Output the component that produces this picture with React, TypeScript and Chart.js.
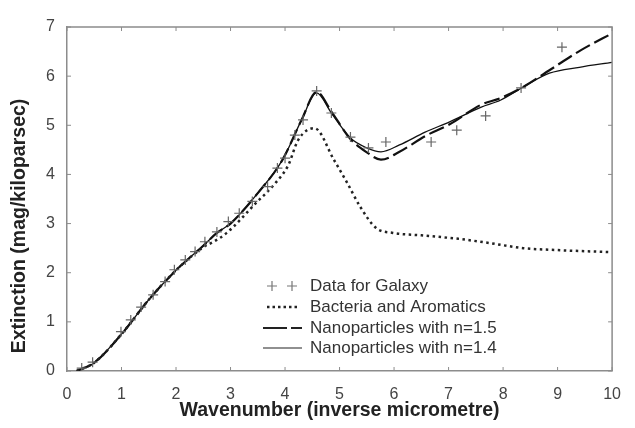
import React, { useEffect, useRef } from "react";
import { Chart, registerables } from "chart.js";

Chart.register(...registerables);

const xTicks = [0, 1, 2, 3, 4, 5, 6, 7, 8, 9, 10];
const yTicks = [0, 1, 2, 3, 4, 5, 6, 7];

const galaxyX = [0.27, 0.47, 0.99, 1.17, 1.36, 1.58, 1.8, 1.97, 2.17, 2.35, 2.53, 2.75, 2.96, 3.16, 3.4, 3.68, 3.86, 4.0, 4.18, 4.33, 4.58, 4.85, 5.2, 5.53, 5.85, 6.68, 7.15, 7.68, 8.33, 9.08];
const galaxyY = [0.06, 0.18, 0.8, 1.04, 1.3, 1.55, 1.82, 2.06, 2.26, 2.43, 2.63, 2.83, 3.04, 3.21, 3.45, 3.75, 4.13, 4.33, 4.8, 5.11, 5.7, 5.25, 4.76, 4.54, 4.66, 4.66, 4.9, 5.19, 5.76, 6.59];

const bacteriaX = [0.18, 0.5, 1, 1.5, 2, 2.5, 2.69, 2.93, 3.46, 3.82, 4.06, 4.24, 4.54, 4.9, 5.13, 5.38, 5.67, 5.98, 6.5, 7.18, 7.77, 8.37, 9, 9.96];
const bacteriaY = [0, 0.17, 0.75, 1.45, 2.05, 2.52, 2.63, 2.81, 3.41, 3.82, 4.19, 4.7, 4.94, 4.29, 3.85, 3.34, 2.91, 2.81, 2.76, 2.69, 2.6, 2.5, 2.46, 2.42];

const n15X = [0.18, 0.5, 1, 1.5, 2, 2.5, 2.75, 3, 3.5, 3.95, 4.3, 4.58, 4.85, 5.2, 5.5, 5.76, 6.1, 6.57, 7.02, 7.6, 7.95, 8.37, 8.85, 9.43, 10];
const n15Y = [0, 0.17, 0.75, 1.45, 2.05, 2.55, 2.81, 3.0, 3.62, 4.29, 5.1, 5.68, 5.28, 4.72, 4.45, 4.3, 4.46, 4.78, 5.02, 5.42, 5.55, 5.78, 6.12, 6.53, 6.87];

const n14X = [0.18, 0.5, 1, 1.5, 2, 2.5, 2.75, 3, 3.5, 3.95, 4.3, 4.58, 4.85, 5.2, 5.5, 5.76, 6.1, 6.57, 7.02, 7.6, 7.95, 8.37, 8.85, 9.4, 10];
const n14Y = [0, 0.17, 0.75, 1.45, 2.05, 2.55, 2.81, 3.0, 3.62, 4.29, 5.1, 5.66, 5.25, 4.74, 4.54, 4.46, 4.6, 4.86, 5.07, 5.37, 5.51, 5.78, 6.06, 6.18, 6.28];

const labels = ["Data for Galaxy", "Bacteria and Aromatics", "Nanoparticles with n=1.5", "Nanoparticles with n=1.4"];
const xTitle = "Wavenumber (inverse micrometre)";
const yTitle = "Extinction (mag/kiloparsec)";

const pts = (xs: number[], ys: number[]) => xs.map((x, i) => ({ x, y: ys[i] }));

const FRAME = "#8c8c8c";
const FONT = "'Liberation Sans', Arial, sans-serif";

const decorPlugin = {
  id: "decor",
  afterDraw(chart: any) {
    const { ctx, chartArea: a, scales } = chart;
    const xs = scales.x, ys = scales.y;
    ctx.save();
    ctx.strokeStyle = FRAME;
    ctx.lineWidth = 1.5;
    ctx.beginPath();
    ctx.moveTo(a.left, a.top);
    ctx.lineTo(a.right, a.top);
    ctx.lineTo(a.right, a.bottom);
    ctx.stroke();
    ctx.lineWidth = 1;
    const tl = 4;
    ctx.beginPath();
    xTicks.forEach((v) => {
      const px = xs.getPixelForValue(v);
      ctx.moveTo(px, a.bottom);
      ctx.lineTo(px, a.bottom - tl);
      ctx.moveTo(px, a.top);
      ctx.lineTo(px, a.top + tl);
    });
    yTicks.forEach((v) => {
      const py = ys.getPixelForValue(v);
      ctx.moveTo(a.left, py);
      ctx.lineTo(a.left + tl, py);
      ctx.moveTo(a.right, py);
      ctx.lineTo(a.right - tl, py);
    });
    ctx.stroke();

    ctx.fillStyle = "#222";
    ctx.font = `bold 19.5px ${FONT}`;
    ctx.textAlign = "center";
    ctx.textBaseline = "middle";
    ctx.fillText(xTitle, (a.left + a.right) / 2, 411);
    ctx.save();
    ctx.translate(20, 226);
    ctx.rotate(-Math.PI / 2);
    ctx.fillText(yTitle, 0, 0);
    ctx.restore();

    const rows = [286, 307, 328, 348];
    const sx = 263, ex = 302, tx = 310;
    ctx.font = `17px ${FONT}`;
    ctx.textAlign = "left";
    ctx.fillStyle = "#333";
    labels.forEach((t, i) => ctx.fillText(t, tx, rows[i]));
    ctx.strokeStyle = "#777";
    ctx.lineWidth = 1.2;
    [272, 292].forEach((cx) => {
      ctx.beginPath();
      ctx.moveTo(cx - 5, rows[0]);
      ctx.lineTo(cx + 5, rows[0]);
      ctx.moveTo(cx, rows[0] - 5);
      ctx.lineTo(cx, rows[0] + 5);
      ctx.stroke();
    });
    ctx.strokeStyle = "#222";
    ctx.lineWidth = 2.5;
    ctx.setLineDash([2.5, 3]);
    ctx.beginPath();
    ctx.moveTo(267, rows[1]);
    ctx.lineTo(299, rows[1]);
    ctx.stroke();
    ctx.lineWidth = 2.2;
    ctx.setLineDash([24, 4]);
    ctx.beginPath();
    ctx.moveTo(sx, rows[2]);
    ctx.lineTo(ex, rows[2]);
    ctx.stroke();
    ctx.setLineDash([]);
    ctx.lineWidth = 1.2;
    ctx.beginPath();
    ctx.moveTo(sx, rows[3]);
    ctx.lineTo(ex, rows[3]);
    ctx.stroke();
    ctx.restore();
  },
};

export default function App() {
  const ref = useRef<HTMLCanvasElement | null>(null);
  useEffect(() => {
    if (!ref.current) return;
    const chart = new Chart(ref.current, {
      type: "scatter",
      data: {
        datasets: [
          {
            label: labels[0],
            data: pts(galaxyX, galaxyY),
            pointStyle: "cross",
            pointRadius: 5,
            borderColor: "#666",
            backgroundColor: "#666",
            pointBorderWidth: 1.2,
            showLine: false,
            order: 0,
          },
          {
            label: labels[1],
            data: pts(bacteriaX, bacteriaY),
            showLine: true,
            pointRadius: 0,
            borderColor: "#222",
            borderWidth: 2.5,
            borderDash: [2.5, 3.5],
            cubicInterpolationMode: "monotone",
            order: 1,
          },
          {
            label: labels[2],
            data: pts(n15X, n15Y),
            showLine: true,
            pointRadius: 0,
            borderColor: "#111",
            borderWidth: 2.2,
            borderDash: [16, 5],
            cubicInterpolationMode: "monotone",
            order: 2,
          },
          {
            label: labels[3],
            data: pts(n14X, n14Y),
            showLine: true,
            pointRadius: 0,
            borderColor: "#111",
            borderWidth: 1.3,
            cubicInterpolationMode: "monotone",
            order: 3,
          },
        ],
      },
      options: {
        animation: false,
        responsive: false,
        layout: { padding: { left: 0, right: 11, top: 27, bottom: 0 } },
        plugins: { legend: { display: false }, tooltip: { enabled: false } },
        scales: {
          x: {
            type: "linear",
            min: 0,
            max: 10,
            afterFit: (s: any) => { s.height = 57; },
            afterBuildTicks: (s: any) => { s.ticks = xTicks.map((v) => ({ value: v })); },
            grid: { display: false, drawTicks: false },
            border: { display: true, color: FRAME, width: 1.5 },
            ticks: { padding: 14, color: "#444", font: { size: 16, family: FONT }, maxRotation: 0 },
          },
          y: {
            type: "linear",
            min: 0,
            max: 7,
            afterFit: (s: any) => { s.width = 67; },
            afterBuildTicks: (s: any) => { s.ticks = yTicks.map((v) => ({ value: v })); },
            grid: { display: false, drawTicks: false },
            border: { display: true, color: FRAME, width: 1.5 },
            ticks: { padding: 12, color: "#444", font: { size: 16, family: FONT } },
          },
        },
      },
      plugins: [decorPlugin],
    } as any);
    return () => chart.destroy();
  }, []);
  return (
    <div style={{ position: "fixed", left: 0, top: 0, width: 635, height: 428, background: "#fff" }}>
      <canvas ref={ref} width={635} height={428} />
    </div>
  );
}
